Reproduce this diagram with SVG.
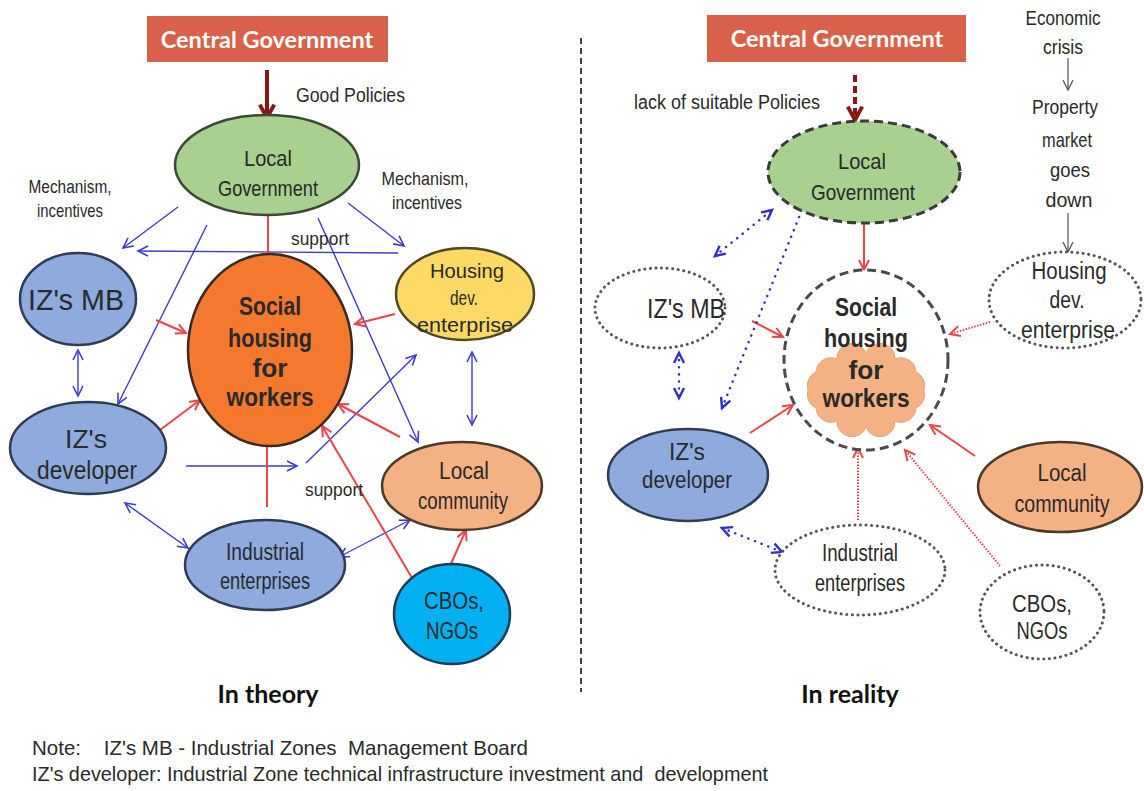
<svg xmlns="http://www.w3.org/2000/svg" width="1144" height="791" viewBox="0 0 1144 791">
<style>
.t{font-family:"Liberation Sans",Arial,sans-serif;fill:#2a2a2a;text-anchor:middle}
.l{text-anchor:start}
.b{font-weight:bold}
.ttl{font-family:Lato,"Open Sans",sans-serif;font-weight:bold;text-anchor:middle}
.blue{fill:#8faadc;stroke:#2f3c55;stroke-width:2.5}
.dot{fill:#fff;stroke:#555;stroke-width:3;stroke-dasharray:0.1 5.5;stroke-linecap:round}
.bl{stroke:#3c3ccc;stroke-width:1.4;fill:none}
.bld{stroke:#3030c8;stroke-width:2.5;fill:none;stroke-dasharray:0.1 7;stroke-linecap:round}
.rd{stroke:#e8464a;stroke-width:2;fill:none}
.rdd{stroke:#e8464a;stroke-width:2;fill:none;stroke-dasharray:1.5 1.5}
.gr{stroke:#555;stroke-width:1.2;fill:none}
</style>
<defs>
<marker id="mb" markerUnits="userSpaceOnUse" markerWidth="14" markerHeight="14" refX="11" refY="6" orient="auto-start-reverse" viewBox="0 0 14 12"><path d="M1,1 L11,6 L1,11" fill="none" stroke="#3c3ccc" stroke-width="1.6"/></marker>
<marker id="mbd" markerUnits="userSpaceOnUse" markerWidth="14" markerHeight="14" refX="11" refY="6" orient="auto-start-reverse" viewBox="0 0 14 12"><path d="M1,1 L11,6 L1,11" fill="none" stroke="#3030c8" stroke-width="2.4"/></marker>
<marker id="mr" markerUnits="userSpaceOnUse" markerWidth="14" markerHeight="14" refX="11" refY="6" orient="auto" viewBox="0 0 14 12"><path d="M1,1 L11,6 L1,11" fill="none" stroke="#e8464a" stroke-width="2"/></marker>
<marker id="mdr" markerUnits="userSpaceOnUse" markerWidth="20" markerHeight="20" refX="14" refY="8" orient="auto" viewBox="0 0 18 16"><path d="M2,1.5 L14,8 L2,14.5" fill="none" stroke="#8b1414" stroke-width="3.5"/></marker>
<marker id="mg" markerUnits="userSpaceOnUse" markerWidth="14" markerHeight="14" refX="11" refY="6" orient="auto" viewBox="0 0 14 12"><path d="M1,1 L11,6 L1,11" fill="none" stroke="#555" stroke-width="1.3"/></marker>
</defs>
<rect width="1144" height="791" fill="#fff"/>

<line x1="581" y1="38" x2="581" y2="692" stroke="#444" stroke-width="2" stroke-dasharray="6 4"/>

<g id="connectors">
<g id="left-connectors">
<line x1="267" y1="70" x2="267" y2="118" stroke="#8b1414" stroke-width="4" marker-end="url(#mdr)"/>
<line class="bl" x1="178" y1="207" x2="123" y2="248" marker-end="url(#mb)"/>
<line class="bl" x1="207" y1="225" x2="118" y2="404" marker-end="url(#mb)"/>
<line class="bl" x1="398" y1="253" x2="138" y2="251" marker-end="url(#mb)"/>
<line class="bl" x1="348" y1="203" x2="404" y2="246" marker-end="url(#mb)"/>
<line class="bl" x1="318" y1="218" x2="418" y2="442" marker-end="url(#mb)"/>
<line class="bl" x1="78" y1="350" x2="78" y2="396" marker-start="url(#mb)" marker-end="url(#mb)"/>
<line class="bl" x1="472" y1="352" x2="472" y2="425" marker-start="url(#mb)" marker-end="url(#mb)"/>
<line class="bl" x1="186" y1="466" x2="297" y2="466" marker-end="url(#mb)"/>
<line class="bl" x1="306" y1="463" x2="416" y2="355" marker-end="url(#mb)"/>
<line class="bl" x1="125" y1="503" x2="188" y2="548" marker-start="url(#mb)" marker-end="url(#mb)"/>
<line class="bl" x1="339" y1="557" x2="410" y2="520" marker-start="url(#mb)" marker-end="url(#mb)"/>
<line class="rd" x1="268" y1="216" x2="268" y2="263" stroke-width="1.5" marker-end="url(#mr)"/>
<line class="rd" x1="156" y1="320" x2="186" y2="333" marker-end="url(#mr)"/>
<line class="rd" x1="395" y1="314" x2="355" y2="324" marker-end="url(#mr)"/>
<line class="rd" x1="160" y1="430" x2="200" y2="400" marker-end="url(#mr)"/>
<line class="rd" x1="400" y1="437" x2="338" y2="404" marker-end="url(#mr)"/>
<line class="rd" x1="267" y1="507" x2="267" y2="437" marker-end="url(#mr)"/>
<line class="rd" x1="418" y1="588" x2="322" y2="426" marker-end="url(#mr)"/>
<line class="rd" x1="450" y1="566" x2="466" y2="530" stroke-width="1.5" marker-end="url(#mr)"/>
</g>
<g id="right-connectors">
<line x1="855" y1="75" x2="855" y2="120" stroke="#8b1414" stroke-width="4" stroke-dasharray="7 4" marker-end="url(#mdr)"/>
<line class="rd" x1="864" y1="223" x2="864" y2="270" marker-end="url(#mr)"/>
<line class="rd" x1="752" y1="321" x2="783" y2="337" stroke-width="1.3" marker-end="url(#mr)"/>
<line class="rdd" x1="990" y1="322" x2="950" y2="334" marker-end="url(#mr)"/>
<line class="rd" x1="750" y1="433" x2="793" y2="405" marker-end="url(#mr)"/>
<line class="rd" x1="975" y1="456" x2="930" y2="425" marker-end="url(#mr)"/>
<line class="rdd" x1="858" y1="520" x2="858" y2="448" marker-end="url(#mr)"/>
<line class="rdd" x1="1000" y1="566" x2="905" y2="450" marker-end="url(#mr)"/>
<line class="bld" x1="715" y1="256" x2="772" y2="210" marker-start="url(#mbd)" marker-end="url(#mbd)"/>
<line class="bld" x1="722" y1="408" x2="806" y2="200" marker-start="url(#mbd)" marker-end="url(#mbd)"/>
<line class="bld" x1="679" y1="353" x2="679" y2="398" marker-start="url(#mbd)" marker-end="url(#mbd)"/>
<line class="bld" x1="722" y1="528" x2="782" y2="552" marker-start="url(#mbd)" marker-end="url(#mbd)"/>
<line class="gr" x1="1068" y1="58" x2="1068" y2="90" marker-end="url(#mg)"/>
<line class="gr" x1="1068" y1="213" x2="1068" y2="252" marker-end="url(#mg)"/>
</g>
</g>

<g id="left-labels">
<text class="t l" x="296" y="102" font-size="20" textLength="109" lengthAdjust="spacingAndGlyphs">Good Policies</text>
<text class="t" x="70" y="193" font-size="19" textLength="83" lengthAdjust="spacingAndGlyphs">Mechanism,</text>
<text class="t" x="70" y="217" font-size="19" textLength="66" lengthAdjust="spacingAndGlyphs">incentives</text>
<text class="t" x="425" y="185" font-size="19" textLength="87" lengthAdjust="spacingAndGlyphs">Mechanism,</text>
<text class="t" x="427" y="209" font-size="19" textLength="70" lengthAdjust="spacingAndGlyphs">incentives</text>
<text class="t" x="320" y="245" font-size="19" textLength="58" lengthAdjust="spacingAndGlyphs">support</text>
<text class="t" x="334" y="496" font-size="19" textLength="58" lengthAdjust="spacingAndGlyphs">support</text>
</g>

<g id="cg-left">
<rect x="147" y="16" width="241" height="46" fill="#d9604b"/>
<text class="ttl" x="267" y="48" font-size="23.5" fill="#fff">Central Government</text>
</g>
<g id="lg-left">
<ellipse cx="267" cy="165" rx="92" ry="50" fill="#a9d08e" stroke="#3b4a36" stroke-width="2.5"/>
<text class="t" x="268" y="166" font-size="22" textLength="48" lengthAdjust="spacingAndGlyphs">Local</text>
<text class="t" x="268" y="196" font-size="22" textLength="100" lengthAdjust="spacingAndGlyphs">Government</text>
</g>
<g id="izmb-left">
<ellipse class="blue" cx="78" cy="299" rx="58" ry="46"/>
<text class="t" x="76" y="310" font-size="30" textLength="96" lengthAdjust="spacingAndGlyphs">IZ's MB</text>
</g>
<g id="social-left">
<ellipse cx="270" cy="350" rx="82" ry="96" fill="#f4792e" stroke="#3a2a20" stroke-width="2.5"/>
<text class="t b" x="270" y="315" font-size="25" textLength="62" lengthAdjust="spacingAndGlyphs">Social</text>
<text class="t b" x="270" y="347" font-size="25" textLength="84" lengthAdjust="spacingAndGlyphs">housing</text>
<text class="t b" x="270" y="377" font-size="25" textLength="35" lengthAdjust="spacingAndGlyphs">for</text>
<text class="t b" x="270" y="406" font-size="25" textLength="87" lengthAdjust="spacingAndGlyphs">workers</text>
</g>
<g id="housing-left">
<ellipse cx="465" cy="294" rx="69" ry="46" fill="#ffd966" stroke="#4f4a25" stroke-width="2.5"/>
<text class="t" x="467" y="278" font-size="21" textLength="74" lengthAdjust="spacingAndGlyphs">Housing</text>
<text class="t" x="464" y="305" font-size="21" textLength="28" lengthAdjust="spacingAndGlyphs">dev.</text>
<text class="t" x="465" y="332" font-size="21" textLength="96" lengthAdjust="spacingAndGlyphs">enterprise</text>
</g>
<g id="izdev-left">
<ellipse class="blue" cx="88" cy="448" rx="78" ry="46"/>
<text class="t" x="86" y="448" font-size="25" textLength="42" lengthAdjust="spacingAndGlyphs">IZ's</text>
<text class="t" x="87" y="479" font-size="25" textLength="100" lengthAdjust="spacingAndGlyphs">developer</text>
</g>
<g id="community-left">
<ellipse cx="462" cy="486" rx="80" ry="44" fill="#f4b183" stroke="#4a3a2a" stroke-width="2.5"/>
<text class="t" x="464" y="479" font-size="23" textLength="50" lengthAdjust="spacingAndGlyphs">Local</text>
<text class="t" x="463" y="509" font-size="23" textLength="90" lengthAdjust="spacingAndGlyphs">community</text>
</g>
<g id="industrial-left">
<ellipse class="blue" cx="265" cy="565" rx="80" ry="45"/>
<text class="t" x="265" y="560" font-size="23" textLength="78" lengthAdjust="spacingAndGlyphs">Industrial</text>
<text class="t" x="265" y="589" font-size="23" textLength="90" lengthAdjust="spacingAndGlyphs">enterprises</text>
</g>
<g id="cbo-left">
<ellipse cx="452" cy="614" rx="58" ry="50" fill="#00b0f0" stroke="#1f3b55" stroke-width="2.5"/>
<text class="t" x="454" y="609" font-size="24" textLength="60" lengthAdjust="spacingAndGlyphs">CBOs,</text>
<text class="t" x="452" y="639" font-size="24" textLength="52" lengthAdjust="spacingAndGlyphs">NGOs</text>
</g>
<text class="ttl" x="268" y="703" font-size="25" fill="#111">In theory</text>

<g id="right-labels">
<text class="t l" x="634" y="109" font-size="20" textLength="186" lengthAdjust="spacingAndGlyphs">lack of suitable Policies</text>
</g>
<g id="econ">
<text class="t" x="1063" y="25" font-size="21" textLength="75" lengthAdjust="spacingAndGlyphs">Economic</text>
<text class="t" x="1063" y="54" font-size="21" textLength="40" lengthAdjust="spacingAndGlyphs">crisis</text>
<text class="t" x="1065" y="114" font-size="21" textLength="66" lengthAdjust="spacingAndGlyphs">Property</text>
<text class="t" x="1067" y="147" font-size="21" textLength="50" lengthAdjust="spacingAndGlyphs">market</text>
<text class="t" x="1070" y="177" font-size="21" textLength="40" lengthAdjust="spacingAndGlyphs">goes</text>
<text class="t" x="1069" y="207" font-size="21" textLength="47" lengthAdjust="spacingAndGlyphs">down</text>
</g>
<g id="cg-right">
<rect x="707" y="15" width="259" height="47" fill="#d9604b"/>
<text class="ttl" x="837" y="47" font-size="23.5" fill="#fff">Central Government</text>
</g>
<g id="lg-right">
<ellipse cx="864" cy="172" rx="96" ry="51" fill="#a9d08e" stroke="#3b3b3b" stroke-width="3" stroke-dasharray="9 5"/>
<text class="t" x="862" y="169" font-size="22" textLength="48" lengthAdjust="spacingAndGlyphs">Local</text>
<text class="t" x="863" y="200" font-size="22" textLength="104" lengthAdjust="spacingAndGlyphs">Government</text>
</g>
<g id="social-right">
<ellipse cx="866" cy="360" rx="82" ry="90" fill="#fff" stroke="#4a4a4a" stroke-width="3" stroke-dasharray="9 5"/>
<path d="M924,390 A15,15 0 0,1 916,408 A15,15 0 0,1 895,421 A15,15 0 0,1 866,427 A15,15 0 0,1 837,421 A15,15 0 0,1 816,408 A15,15 0 0,1 808,390 A15,15 0 0,1 816,372 A15,15 0 0,1 837,359 A15,15 0 0,1 866,353 A15,15 0 0,1 895,359 A15,15 0 0,1 916,372 A15,15 0 0,1 924,390 Z" fill="#f4b183" stroke="#eba072" stroke-width="1"/>
<text class="t b" x="866" y="316" font-size="25" textLength="62" lengthAdjust="spacingAndGlyphs">Social</text>
<text class="t b" x="866" y="347" font-size="25" textLength="84" lengthAdjust="spacingAndGlyphs">housing</text>
<text class="t b" x="866" y="379" font-size="25" textLength="35" lengthAdjust="spacingAndGlyphs">for</text>
<text class="t b" x="866" y="407" font-size="25" textLength="87" lengthAdjust="spacingAndGlyphs">workers</text>
</g>
<g id="izmb-right">
<ellipse class="dot" cx="660" cy="308" rx="65" ry="40"/>
<text class="t" x="686" y="318" font-size="27" textLength="78" lengthAdjust="spacingAndGlyphs">IZ's MB</text>
</g>
<g id="housing-right">
<ellipse class="dot" cx="1065" cy="300" rx="76" ry="48"/>
<text class="t" x="1069" y="279" font-size="23" textLength="75" lengthAdjust="spacingAndGlyphs">Housing</text>
<text class="t" x="1067" y="308" font-size="23" textLength="35" lengthAdjust="spacingAndGlyphs">dev.</text>
<text class="t" x="1068" y="338" font-size="23" textLength="94" lengthAdjust="spacingAndGlyphs">enterprise</text>
</g>
<g id="izdev-right">
<ellipse class="blue" cx="688" cy="475" rx="80" ry="46"/>
<text class="t" x="687" y="460" font-size="23" textLength="36" lengthAdjust="spacingAndGlyphs">IZ's</text>
<text class="t" x="687" y="488" font-size="23" textLength="90" lengthAdjust="spacingAndGlyphs">developer</text>
</g>
<g id="community-right">
<ellipse cx="1060" cy="487" rx="82" ry="45" fill="#f4b183" stroke="#4a3a2a" stroke-width="2.5"/>
<text class="t" x="1062" y="481" font-size="23" textLength="49" lengthAdjust="spacingAndGlyphs">Local</text>
<text class="t" x="1062" y="512" font-size="23" textLength="95" lengthAdjust="spacingAndGlyphs">community</text>
</g>
<g id="industrial-right">
<ellipse class="dot" cx="860" cy="570" rx="85" ry="45"/>
<text class="t" x="860" y="561" font-size="23" textLength="76" lengthAdjust="spacingAndGlyphs">Industrial</text>
<text class="t" x="860" y="591" font-size="23" textLength="90" lengthAdjust="spacingAndGlyphs">enterprises</text>
</g>
<g id="cbo-right">
<ellipse class="dot" cx="1042" cy="612" rx="62" ry="47"/>
<text class="t" x="1042" y="612" font-size="23" textLength="60" lengthAdjust="spacingAndGlyphs">CBOs,</text>
<text class="t" x="1042" y="639" font-size="23" textLength="51" lengthAdjust="spacingAndGlyphs">NGOs</text>
</g>
<text class="ttl" x="850" y="703" font-size="25" fill="#111">In reality</text>

<g id="note">
<text class="t l" x="32" y="755" font-size="21" textLength="496" lengthAdjust="spacingAndGlyphs" xml:space="preserve">Note:    IZ's MB - Industrial Zones  Management Board</text>
<text class="t l" x="32" y="781" font-size="21" textLength="736" lengthAdjust="spacingAndGlyphs" xml:space="preserve">IZ's developer: Industrial Zone technical infrastructure investment and  development</text>
</g>
</svg>
